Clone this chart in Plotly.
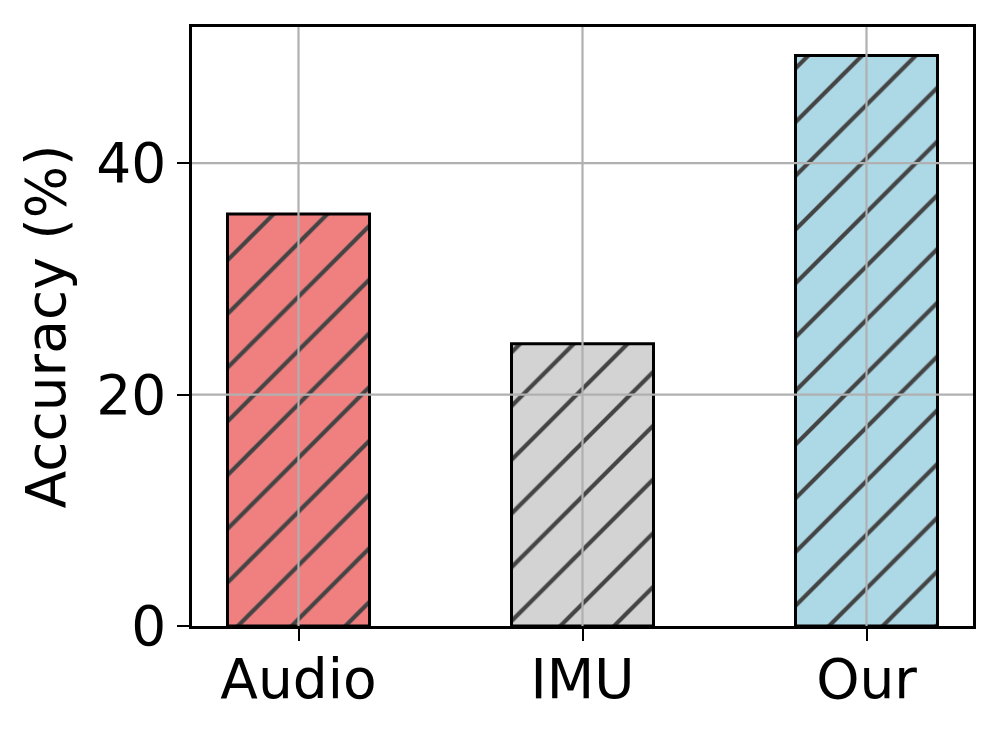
import plotly.graph_objects as go

# data
methods = ["Audio", "IMU", "Our"]
accuracy = [35.6, 24.4, 49.3]
bar_colors = ["#F08080", "#D3D3D3", "#ADD8E6"]
y_ticks = [0, 20, 40]

fig = go.Figure()
fig.add_trace(go.Bar(
    x=methods, y=accuracy, width=0.5,
    marker=dict(
        color=bar_colors,
        line=dict(color="black", width=3),
        pattern=dict(shape="/", fgcolor="black", fgopacity=1, size=38, solidity=0.11),
    ),
    showlegend=False,
))

# grid lines on top of the bars, like the original
grid = dict(color="#b0b0b0", width=2.2)
for m in methods:
    fig.add_shape(type="line", xref="x", yref="paper", x0=m, x1=m, y0=0, y1=1,
                  line=grid, layer="above")
for t in y_ticks[1:]:
    fig.add_shape(type="line", xref="paper", yref="y", x0=0, x1=1, y0=t, y1=t,
                  line=grid, layer="above")

font = dict(family="DejaVu Sans", size=55, color="black")
fig.update_layout(
    width=997, height=731,
    margin=dict(l=184, r=32, t=19, b=113),
    plot_bgcolor="white", paper_bgcolor="white",
    font=font,
)
fig.update_xaxes(
    range=[-0.375, 2.375], showgrid=False, automargin=False,
    showline=True, linecolor="black", linewidth=2.5, mirror=True,
    ticks="outside", ticklen=12, tickwidth=2, tickcolor="black",
    ticklabelstandoff=-9,
    layer="above traces",
)
fig.update_yaxes(
    range=[0, 51.76], tickvals=y_ticks, showgrid=False, zeroline=False,
    automargin=False,
    showline=True, linecolor="black", linewidth=2.5, mirror=True,
    ticks="outside", ticklen=12, tickwidth=2, tickcolor="black",
    title=dict(text="Accuracy (%)", standoff=14, font=dict(size=55)),
    layer="above traces",
)

fig.write_html("out.html")
